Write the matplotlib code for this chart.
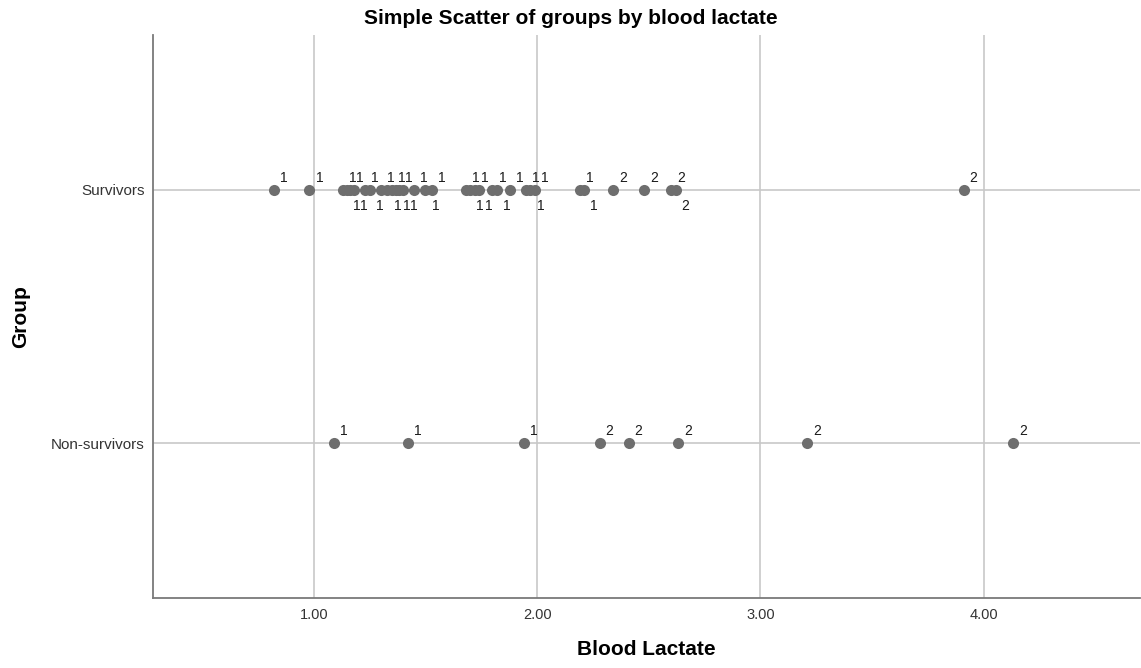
import matplotlib
matplotlib.use('Agg')
import matplotlib.pyplot as plt

plt.rcParams['font.family'] = ['Liberation Sans', 'DejaVu Sans']

groups = ['Non-survivors', 'Survivors']

survivors_lactate = [0.82, 0.98, 1.13, 1.15, 1.16, 1.18, 1.23, 1.25, 1.30, 1.33,
                     1.35, 1.37, 1.38, 1.40, 1.45, 1.50, 1.53, 1.68, 1.70, 1.72,
                     1.74, 1.80, 1.82, 1.88, 1.95, 1.97, 1.99, 2.19, 2.21, 2.34,
                     2.48, 2.60, 2.62, 3.91]
survivors_labels = [1] * 29 + [2, 2, 2, 2, 2]

nonsurv_lactate = [1.09, 1.42, 1.94, 2.28, 2.41, 2.63, 3.21, 4.13]
nonsurv_labels = [1, 1, 1, 2, 2, 2, 2, 2]

xticks = [1.0, 2.0, 3.0, 4.0]

dot_color = '#6e6e6e'
grid_color = '#c8c8c8'

fig = plt.figure(figsize=(11.41, 6.68), dpi=100)
ax = fig.add_axes([0.1341, 0.1048, 0.865, 0.8428])

ax.set_xlim(0.28, 4.70)
ax.set_ylim(-0.61, 1.61)

for xt in xticks:
    ax.axvline(xt, color=grid_color, lw=1.2, zorder=0)
for yi in range(len(groups)):
    ax.axhline(yi, color=grid_color, lw=1.2, zorder=0)

ax.scatter(survivors_lactate, [1] * len(survivors_lactate), s=64,
           color=dot_color, zorder=3, linewidths=0)
ax.scatter(nonsurv_lactate, [0] * len(nonsurv_lactate), s=64,
           color=dot_color, zorder=3, linewidths=0)

fig.canvas.draw()


def place_labels(xs, labs, yrow):
    # close neighbours alternate above/below, otherwise label goes above-right
    last = {'above': -1e9, 'below': -1e9}
    prev_px, prev_slot = -1e9, 'below'
    order = sorted(range(len(xs)), key=lambda i: xs[i])
    for i in order:
        px = ax.transData.transform((xs[i], yrow))[0]
        if px - prev_px < 12:
            slot = 'below' if prev_slot == 'above' else 'above'
        else:
            slot = 'above'
        want = max(px + 10, last[slot] + 7)
        last[slot] = want
        prev_px, prev_slot = px, slot
        dy = 12 if slot == 'above' else -16
        ax.annotate(str(labs[i]), (xs[i], yrow), xytext=(want - px, dy),
                    textcoords='offset pixels', ha='center', va='center',
                    fontsize=10, color='#1a1a1a', zorder=4)


place_labels(survivors_lactate, survivors_labels, 1)
place_labels(nonsurv_lactate, nonsurv_labels, 0)

ax.set_xticks(xticks)
ax.set_xticklabels(['%.2f' % v for v in xticks], fontsize=10.5, color='#333333')
ax.set_yticks(range(len(groups)))
ax.set_yticklabels(groups, fontsize=11, color='#333333')
ax.tick_params(axis='x', length=0, pad=7)
ax.tick_params(axis='y', length=0, pad=6)

for s in ['top', 'right']:
    ax.spines[s].set_visible(False)
for s in ['left', 'bottom']:
    ax.spines[s].set_color('#7a7a7a')
    ax.spines[s].set_linewidth(1.3)

ax.set_xlabel('Blood Lactate', fontsize=15, fontweight='bold')
ax.xaxis.set_label_coords(0.5, -0.074)
ax.set_ylabel('Group', fontsize=15, fontweight='bold')
ax.yaxis.set_label_coords(-0.124, 0.5)
fig.suptitle('Simple Scatter of groups by blood lactate', fontsize=15,
             fontweight='bold', x=0.5, y=0.972, va='center')

fig.savefig('out.png', dpi=100)
